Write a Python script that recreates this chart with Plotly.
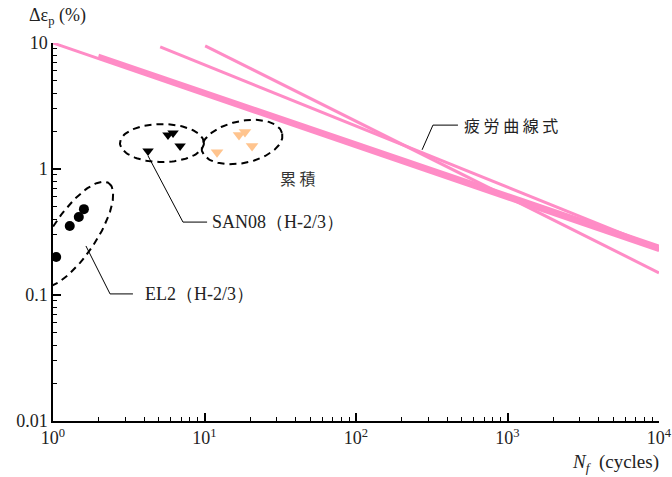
import numpy as np
import plotly.graph_objects as go

# ---------------- data ----------------
# fatigue curves (start / end points)
curve_N = [[1, 1e4], [2, 1e4], [2, 1e4], [5.1, 1e4], [10.1, 1e4]]
curve_eps = [[10, 0.225], [8.0, 0.245], [7.7, 0.235], [9.3, 0.235], [9.5, 0.15]]

# EL2 (H-2/3) tests
el2_N = [1.05, 1.29, 1.48, 1.60]
el2_eps = [0.20, 0.353, 0.416, 0.48]

# SAN08 (H-2/3) tests
san_N = [4.24, 5.74, 6.2, 6.9]
san_eps = [1.39, 1.86, 1.93, 1.52]

# cumulative (累積)
cum_N = [12.1, 16.9, 18.5, 20.6]
cum_eps = [1.36, 1.86, 1.97, 1.52]

# ellipses: center (log10 N, log10 eps), axis vectors u, v in decades
ellipses = [
    dict(c=(0.139, -0.520), u=(0.229, 0.408), v=(0.120, -0.098)),
    dict(c=(0.719, 0.206), u=(0.277, 0.0), v=(0.0, 0.151)),
    dict(c=(1.248, 0.214), u=(0.265, 0.0675), v=(0.0288, -0.163)),
]

# leader lines
lead_fat_N = [273, 322, 471]
lead_fat_eps = [1.42, 2.23, 2.23]
lead_san_N = [4.24, 7.21, 10.4]
lead_san_eps = [1.27, 0.379, 0.379]
lead_el2_N = [1.65, 2.38, 3.37]
lead_el2_eps = [0.245, 0.102, 0.102]

x_tickvals = [1, 10, 100, 1000, 10000]
x_ticktext = ["10<sup>0</sup>", "10<sup>1</sup>", "10<sup>2</sup>", "10<sup>3</sup>", "10<sup>4</sup>"]
y_tickvals = [0.01, 0.1, 1, 10]
y_ticktext = ["0.01", "0.1", "1", "10"]

PINK = "#FF8CC6"
ORANGE = "#FFC48E"
SERIF = "Liberation Serif"
CJK = "Noto Sans CJK JP"

fig = go.Figure()

for n, e in zip(curve_N, curve_eps):
    fig.add_trace(go.Scatter(x=n, y=e, mode="lines",
                             line=dict(color=PINK, width=3), hoverinfo="skip"))

t = np.linspace(0, 2 * np.pi, 120)
for el in ellipses:
    cx, cy = el["c"]
    ux, uy = el["u"]
    vx, vy = el["v"]
    lx = cx + np.cos(t) * ux + np.sin(t) * vx
    ly = cy + np.cos(t) * uy + np.sin(t) * vy
    fig.add_trace(go.Scatter(x=10 ** lx, y=10 ** ly, mode="lines",
                             line=dict(color="black", width=2, dash="7px,5px"),
                             hoverinfo="skip"))

for n, e in [(lead_fat_N, lead_fat_eps), (lead_san_N, lead_san_eps), (lead_el2_N, lead_el2_eps)]:
    fig.add_trace(go.Scatter(x=n, y=e, mode="lines",
                             line=dict(color="black", width=1), hoverinfo="skip"))

fig.add_trace(go.Scatter(x=el2_N, y=el2_eps, mode="markers",
                         marker=dict(symbol="circle", size=10, color="black"),
                         cliponaxis=False))
fig.add_trace(go.Scatter(x=san_N, y=san_eps, mode="markers",
                         marker=dict(symbol="triangle-down", size=10, color="black")))
fig.add_trace(go.Scatter(x=cum_N, y=cum_eps, mode="markers",
                         marker=dict(symbol="triangle-down", size=11, color=ORANGE)))

ann = [
    dict(x=1.617, y=-0.071, text="累 積", xanchor="center",
         font=dict(family=CJK, size=16, color="#333333")),
    dict(x=2.70, y=0.349, text="疲 労 曲 線 式", xanchor="left",
         font=dict(family=CJK, size=16, color="#222222")),
    dict(x=1.036, y=-0.421, text="SAN08（H-2/3）", xanchor="left",
         font=dict(family=SERIF, size=18, color="#222222")),
    dict(x=0.594, y=-0.992, text="EL2（H-2/3）", xanchor="left",
         font=dict(family=SERIF, size=18, color="#222222")),
]
for a in ann:
    a.update(xref="x", yref="y", showarrow=False, yanchor="middle")
    fig.add_annotation(**a)

fig.add_annotation(xref="paper", yref="paper", x=-0.043, y=1.069,
                   text="Δε<sub>p</sub> (%)", showarrow=False, xanchor="left", yanchor="middle",
                   font=dict(family=SERIF, size=18, color="#222222"))
fig.add_annotation(xref="paper", yref="paper", x=1.003, y=-0.112,
                   text="<i>N<sub>f</sub></i>  (cycles)", showarrow=False, xanchor="right", yanchor="middle",
                   font=dict(family=SERIF, size=19, color="#222222"))

minor_x = [m * 10 ** d for d in range(4) for m in range(2, 10)]
minor_y = [m * 10 ** d for d in range(-2, 1) for m in range(2, 10)]

fig.update_xaxes(type="log", range=[0, 4], tickvals=x_tickvals, ticktext=x_ticktext,
                 automargin=False,
                 ticks="inside", ticklen=8, tickwidth=1.5, tickcolor="black",
                 showline=True, linecolor="black", linewidth=1.5, showgrid=False, zeroline=False,
                 tickfont=dict(family=SERIF, size=18, color="#222222"),
                 minor=dict(tickvals=minor_x, ticks="inside", ticklen=4, tickwidth=1.2,
                            tickcolor="black", showgrid=False))
fig.update_yaxes(type="log", range=[-2, 1], tickvals=y_tickvals, ticktext=y_ticktext,
                 automargin=False,
                 ticks="inside", ticklen=8, tickwidth=1.5, tickcolor="black",
                 showline=True, linecolor="black", linewidth=1.5, showgrid=False, zeroline=False,
                 tickfont=dict(family=SERIF, size=18, color="#222222"),
                 minor=dict(tickvals=minor_y, ticks="inside", ticklen=4, tickwidth=1.2,
                            tickcolor="black", showgrid=False))

fig.update_layout(width=672, height=477, showlegend=False, autosize=False,
                  plot_bgcolor="white", paper_bgcolor="white",
                  margin=dict(l=53, r=13, t=43, b=56))

fig.write_html("out.html",
               config={"displayModeBar": False, "responsive": False},
               post_script=("document.body.style.margin='0px';"
                            "document.body.style.overflow='hidden';"
                            "document.documentElement.style.overflow='hidden';"))
